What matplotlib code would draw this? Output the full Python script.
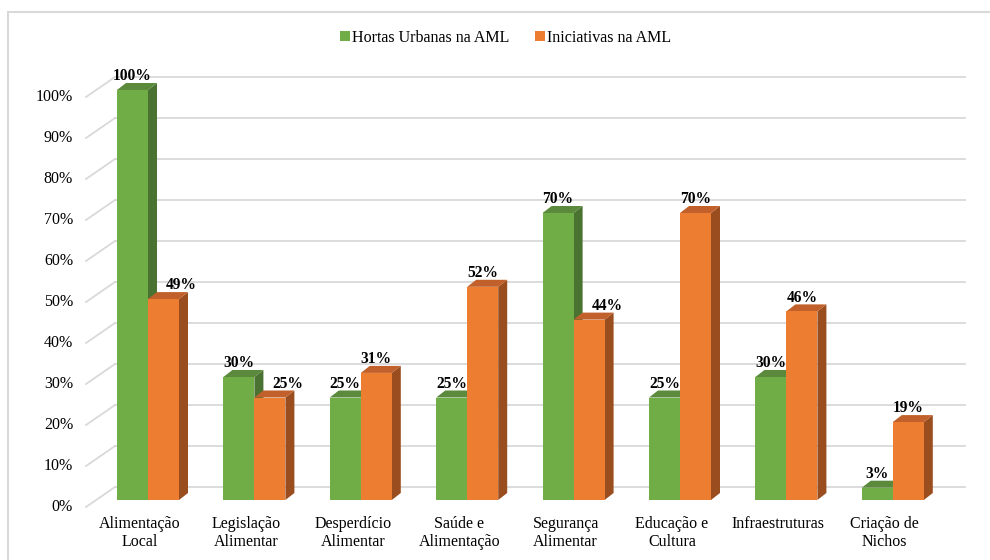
"""Hortas urbanas vs iniciativas na AML, Excel-style 3D clustered bars."""

import matplotlib

matplotlib.use("Agg")
import matplotlib.pyplot as plt
from matplotlib.patches import Patch, Polygon, Rectangle

categories = [
    "Alimentação\nLocal",
    "Legislação\nAlimentar",
    "Desperdício\nAlimentar",
    "Saúde e\nAlimentação",
    "Segurança\nAlimentar",
    "Educação e\nCultura",
    "Infraestruturas",
    "Criação de\nNichos",
]
hortas = [100, 30, 25, 25, 70, 25, 30, 3]
iniciativas = [49, 25, 31, 52, 44, 70, 46, 19]
series_names = ["Hortas Urbanas na AML", "Iniciativas na AML"]
yticks = list(range(0, 101, 10))

FRONT = ["#70AD47", "#ED7D31"]
TOP = ["#5B8A3C", "#C1602A"]
SIDE = ["#4A7230", "#9A4E1F"]
GRID = "#D9D9D9"

W, H = 990, 560
plt.rcParams["font.family"] = ["Liberation Serif", "DejaVu Serif"]

fig = plt.figure(figsize=(W / 100, H / 100), dpi=100)

# axes placed so 0 -> y px 500, 100 -> y px 90; category centre spacing 106.4 px
left_px, right_px = 88, 965
px_per_cat = 106.4
center0 = 148
x_lo = (left_px - center0) / px_per_cat
x_hi = (right_px - center0) / px_per_cat
ax = fig.add_axes([left_px / W, 60 / H, (right_px - left_px) / W, 410 / H])
ax.set_xlim(x_lo, x_hi)
ax.set_ylim(0, 100)
ax.axis("off")

px_y = 100 / 410  # data units per pixel (vertical)
px_x = 1 / px_per_cat  # data units per pixel (horizontal)
bar_w = 31 * px_x
dx, dy = 9 * px_x, 7 * px_y

# back wall grid + side-wall diagonals
back_dy = 13 * px_y
back_x0 = (115 - center0) * px_x
diag_x0 = (86 - center0) * px_x
for v in yticks:
    ax.plot([back_x0, x_hi], [v + back_dy, v + back_dy], color=GRID, lw=1.3, zorder=1, clip_on=False)
    ax.plot([diag_x0, back_x0], [v - 7 * px_y, v + back_dy], color=GRID, lw=1.3, zorder=1, clip_on=False)
    ax.text((73 - center0) * px_x, v - 7 * px_y, f"{v}%", ha="right", va="center", fontsize=11.5, clip_on=False)


def draw_bar(x0, value, k, z, label_dx=0):
    x1 = x0 + bar_w
    side = [(x1, 0), (x1 + dx, dy), (x1 + dx, value + dy), (x1, value)]
    top = [(x0, value), (x0 + dx, value + dy), (x1 + dx, value + dy), (x1, value)]
    ax.add_patch(Polygon(side, closed=True, facecolor=SIDE[k], edgecolor="none", zorder=z, clip_on=False))
    ax.add_patch(Polygon(top, closed=True, facecolor=TOP[k], edgecolor="none", zorder=z, clip_on=False))
    ax.add_patch(Rectangle((x0, 0), bar_w, value, facecolor=FRONT[k], edgecolor="none", zorder=z, clip_on=False))
    ax.annotate(f"{value}%", (x0 + bar_w / 2, value), xytext=(label_dx, 10), textcoords="offset points",
                ha="center", va="center", fontsize=11.2, fontweight="bold", zorder=20, annotation_clip=False)


z = 3
for i, (a, b) in enumerate(zip(hortas, iniciativas)):
    draw_bar(i - bar_w, a, 0, z)
    # Excel nudged the orange label right when the green bar's side would hide it
    draw_bar(i, b, 1, z + 1, label_dx=13 if a > b else 0)
    z += 2
    ax.text(i - 8 * px_x, -16 * px_y, categories[i], ha="center", va="top", fontsize=11.5, clip_on=False)

handles = [Patch(facecolor=c, edgecolor="none") for c in FRONT]
fig.legend(handles, series_names, loc="center", bbox_to_anchor=(506 / W, 1 - 38 / H), ncol=2,
           frameon=False, fontsize=11.5, handlelength=0.6, handleheight=0.6, handletextpad=0.15,
           columnspacing=1.6)

# chart area border (cropped on right/bottom in the original)
fig.patches.append(Rectangle((8 / W, -0.2), 2, 1.2 - 12 / H, transform=fig.transFigure,
                             facecolor="none", edgecolor=GRID, lw=1.5))

fig.savefig("out.png", dpi=100)
